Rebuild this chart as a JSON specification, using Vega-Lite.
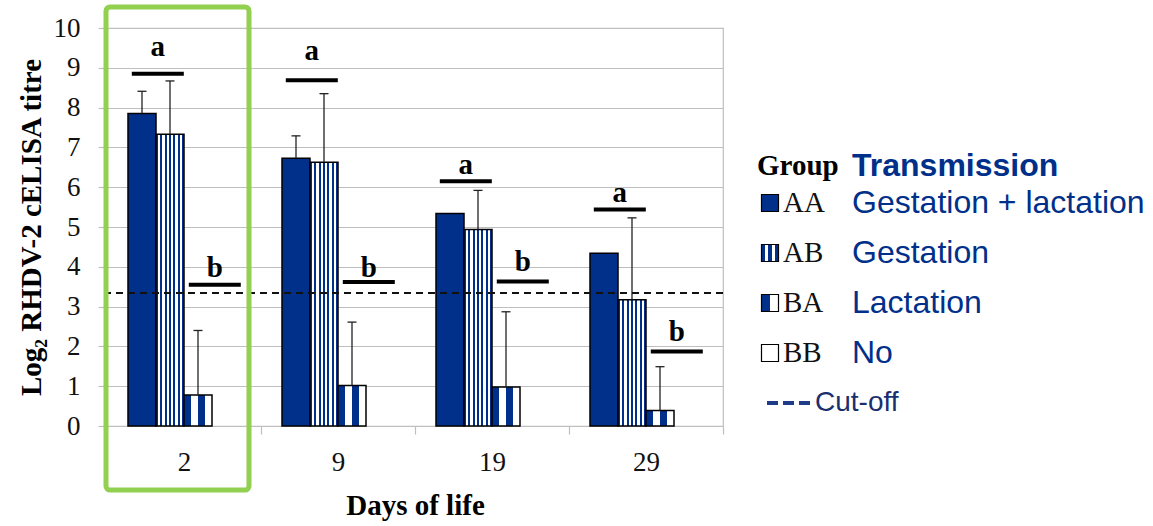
{
  "$schema": "https://vega.github.io/schema/vega-lite/v6.json",
  "autosize": "none",
  "width": 616,
  "height": 398,
  "padding": {"left": 107, "top": 28, "right": 430, "bottom": 100},
  "background": "white",
  "config": {
    "view": {"stroke": "#bfbfbf", "strokeWidth": 1.2},
    "font": "Liberation Serif"
  },
  "datasets": {
    "bars": [
      {"day": "2", "group": "AA", "v": 7.85, "u": 8.41},
      {"day": "2", "group": "AB", "v": 7.33, "u": 8.67},
      {"day": "2", "group": "BA", "v": 0.78, "u": 2.40},
      {"day": "2", "group": "BB", "v": 0, "u": null},
      {"day": "9", "group": "AA", "v": 6.73, "u": 7.29},
      {"day": "9", "group": "AB", "v": 6.63, "u": 8.35},
      {"day": "9", "group": "BA", "v": 1.02, "u": 2.61},
      {"day": "9", "group": "BB", "v": 0, "u": null},
      {"day": "19", "group": "AA", "v": 5.34, "u": null},
      {"day": "19", "group": "AB", "v": 4.94, "u": 5.92},
      {"day": "19", "group": "BA", "v": 0.98, "u": 2.87},
      {"day": "19", "group": "BB", "v": 0, "u": null},
      {"day": "29", "group": "AA", "v": 4.34, "u": null},
      {"day": "29", "group": "AB", "v": 3.17, "u": 5.23},
      {"day": "29", "group": "BA", "v": 0.39, "u": 1.49},
      {"day": "29", "group": "BB", "v": 0, "u": null}
    ],
    "caps": [
      {"day": "2", "group": "AA", "v": 8.41},
      {"day": "2", "group": "AB", "v": 8.67},
      {"day": "2", "group": "BA", "v": 2.40},
      {"day": "9", "group": "AA", "v": 7.29},
      {"day": "9", "group": "AB", "v": 8.35},
      {"day": "9", "group": "BA", "v": 2.61},
      {"day": "19", "group": "AB", "v": 5.92},
      {"day": "19", "group": "BA", "v": 2.87},
      {"day": "29", "group": "AB", "v": 5.23},
      {"day": "29", "group": "BA", "v": 1.49}
    ],
    "siglines": [
      {"day": "2", "letter": "a", "v": 8.85},
      {"day": "2", "letter": "b", "v": 3.55},
      {"day": "9", "letter": "a", "v": 8.69},
      {"day": "9", "letter": "b", "v": 3.62},
      {"day": "19", "letter": "a", "v": 6.15},
      {"day": "19", "letter": "b", "v": 3.63},
      {"day": "29", "letter": "a", "v": 5.44},
      {"day": "29", "letter": "b", "v": 1.87}
    ],
    "sigtext": [
      {"day": "2", "letter": "a", "v": 9.53},
      {"day": "2", "letter": "b", "v": 3.97},
      {"day": "9", "letter": "a", "v": 9.41},
      {"day": "9", "letter": "b", "v": 3.97},
      {"day": "19", "letter": "a", "v": 6.57},
      {"day": "19", "letter": "b", "v": 4.13},
      {"day": "29", "letter": "a", "v": 5.85},
      {"day": "29", "letter": "b", "v": 2.35}
    ],
    "cutoff": [{"v": 3.34}],
    "box": [{"day": "2", "v": 10.53, "u": -1.61}],
    "legend": [
      {"row": "hdr", "code": "Group", "desc": "Transmission"},
      {"row": "AA", "code": "AA", "desc": "Gestation + lactation"},
      {"row": "AB", "code": "AB", "desc": "Gestation"},
      {"row": "BA", "code": "BA", "desc": "Lactation"},
      {"row": "BB", "code": "BB", "desc": "No"},
      {"row": "cut", "code": "", "desc": "Cut-off"}
    ]
  },
  "layer": [
    {
      "encoding": {
        "x": {
          "field": "day", "type": "nominal", "sort": ["2", "9", "19", "29"],
          "scale": {"domain": ["2", "9", "19", "29"], "paddingInner": 0, "paddingOuter": 0},
          "axis": {
            "title": "Days of life", "labelAngle": 0, "tickOffset": 77, "labelOffset": -77,
            "tickSize": 8, "tickColor": "#bfbfbf", "domainColor": "#bfbfbf", "tickWidth": 1.2, "domainWidth": 1.2,
            "labelFont": "Liberation Serif", "labelFontSize": 27, "labelColor": "#111", "labelPadding": 15,
            "titleFont": "Liberation Serif", "titleFontSize": 29, "titleFontWeight": "bold", "titleColor": "#000", "titlePadding": 16,
            "grid": false
          }
        },
        "y": {
          "field": "v", "type": "quantitative", "scale": {"domain": [0, 10]},
          "axis": {
            "title": "Log₂ RHDV-2 cELISA titre", "values": [0, 1, 2, 3, 4, 5, 6, 7, 8, 9, 10], "tickCount": 11,
            "grid": true, "gridColor": "#bfbfbf", "gridWidth": 1.2, "tickColor": "#bfbfbf", "tickWidth": 1.2, "domainColor": "#bfbfbf",
            "tickSize": 9, "labelFont": "Liberation Serif", "labelFontSize": 27, "labelColor": "#111", "labelPadding": 18,
            "titleFont": "Liberation Serif", "titleFontSize": 29, "titleFontWeight": "bold", "titleColor": "#000", "titlePadding": 7
          }
        }
      },
      "layer": [
        {
          "data": {"name": "bars"},
          "transform": [{"filter": "datum.group === 'AA'"}],
          "mark": {"type": "bar", "fill": "#00308A", "stroke": "#000", "strokeWidth": 1.5},
          "encoding": {
            "xOffset": {"field": "group", "type": "nominal", "scale": {"domain": ["AA", "AB", "BA", "BB"], "paddingInner": 0, "paddingOuter": 0.75}}
          }
        },
        {
          "data": {"name": "bars"},
          "transform": [{"filter": "datum.group === 'AB'"}],
          "mark": {"type": "bar", "stroke": "#000", "strokeWidth": 1.5,
            "fill": {"gradient": "linear", "x1": 0, "y1": 0, "x2": 1, "y2": 0, "stops": [
              {"offset": 0, "color": "#00308A"}, {"offset": 0.0769, "color": "#00308A"},
              {"offset": 0.0769, "color": "#ffffff"}, {"offset": 0.1538, "color": "#ffffff"},
              {"offset": 0.1538, "color": "#00308A"}, {"offset": 0.2308, "color": "#00308A"},
              {"offset": 0.2308, "color": "#ffffff"}, {"offset": 0.3077, "color": "#ffffff"},
              {"offset": 0.3077, "color": "#00308A"}, {"offset": 0.3846, "color": "#00308A"},
              {"offset": 0.3846, "color": "#ffffff"}, {"offset": 0.4615, "color": "#ffffff"},
              {"offset": 0.4615, "color": "#00308A"}, {"offset": 0.5385, "color": "#00308A"},
              {"offset": 0.5385, "color": "#ffffff"}, {"offset": 0.6154, "color": "#ffffff"},
              {"offset": 0.6154, "color": "#00308A"}, {"offset": 0.6923, "color": "#00308A"},
              {"offset": 0.6923, "color": "#ffffff"}, {"offset": 0.7692, "color": "#ffffff"},
              {"offset": 0.7692, "color": "#00308A"}, {"offset": 0.8462, "color": "#00308A"},
              {"offset": 0.8462, "color": "#ffffff"}, {"offset": 0.9231, "color": "#ffffff"},
              {"offset": 0.9231, "color": "#00308A"}, {"offset": 1, "color": "#00308A"}
            ]}},
          "encoding": {
            "xOffset": {"field": "group", "type": "nominal", "scale": {"domain": ["AA", "AB", "BA", "BB"], "paddingInner": 0, "paddingOuter": 0.75}}
          }
        },
        {
          "data": {"name": "bars"},
          "transform": [{"filter": "datum.group === 'BA'"}],
          "mark": {"type": "bar", "stroke": "#000", "strokeWidth": 1.5,
            "fill": {"gradient": "linear", "x1": 0, "y1": 0, "x2": 1, "y2": 0, "stops": [
              {"offset": 0, "color": "#00308A"}, {"offset": 0.25, "color": "#00308A"},
              {"offset": 0.25, "color": "#ffffff"}, {"offset": 0.5, "color": "#ffffff"},
              {"offset": 0.5, "color": "#00308A"}, {"offset": 0.75, "color": "#00308A"},
              {"offset": 0.75, "color": "#ffffff"}, {"offset": 1, "color": "#ffffff"}
            ]}},
          "encoding": {
            "xOffset": {"field": "group", "type": "nominal", "scale": {"domain": ["AA", "AB", "BA", "BB"], "paddingInner": 0, "paddingOuter": 0.75}}
          }
        },
        {
          "data": {"name": "bars"},
          "transform": [{"filter": "datum.u != null"}],
          "mark": {"type": "rule", "color": "#222", "strokeWidth": 1.3},
          "encoding": {
            "xOffset": {"field": "group", "type": "nominal", "scale": {"domain": ["AA", "AB", "BA", "BB"], "paddingInner": 0, "paddingOuter": 0.75}},
            "y2": {"field": "u"}
          }
        },
        {
          "data": {"name": "caps"},
          "mark": {"type": "tick", "orient": "horizontal", "color": "#222", "opacity": 1, "size": 9, "thickness": 1.3},
          "encoding": {
            "xOffset": {"field": "group", "type": "nominal", "scale": {"domain": ["AA", "AB", "BA", "BB"], "paddingInner": 0, "paddingOuter": 0.75}}
          }
        },
        {
          "data": {"name": "cutoff"},
          "mark": {"type": "rule", "color": "#111", "strokeWidth": 2, "strokeDash": [7, 5]},
          "encoding": {"x": null}
        },
        {
          "data": {"name": "siglines"},
          "transform": [{"filter": "datum.letter === 'a'"}],
          "mark": {"type": "point", "shape": "stroke", "size": 2704, "filled": false, "stroke": "#000", "strokeWidth": 4, "strokeCap": "butt", "opacity": 1},
          "encoding": {
            "x": {"field": "day", "type": "nominal", "bandPosition": 0.33}
          }
        },
        {
          "data": {"name": "siglines"},
          "transform": [{"filter": "datum.letter === 'b'"}],
          "mark": {"type": "point", "shape": "stroke", "size": 2704, "filled": false, "stroke": "#000", "strokeWidth": 4, "strokeCap": "butt", "opacity": 1},
          "encoding": {
            "x": {"field": "day", "type": "nominal", "bandPosition": 0.7}
          }
        },
        {
          "data": {"name": "sigtext"},
          "transform": [{"filter": "datum.letter === 'a'"}],
          "mark": {"type": "text", "font": "Liberation Serif", "fontWeight": "bold", "fontSize": 29, "color": "#000", "baseline": "middle", "align": "center"},
          "encoding": {
            "x": {"field": "day", "type": "nominal", "bandPosition": 0.33},
            "text": {"field": "letter"}
          }
        },
        {
          "data": {"name": "sigtext"},
          "transform": [{"filter": "datum.letter === 'b'"}],
          "mark": {"type": "text", "font": "Liberation Serif", "fontWeight": "bold", "fontSize": 29, "color": "#000", "baseline": "middle", "align": "center"},
          "encoding": {
            "x": {"field": "day", "type": "nominal", "bandPosition": 0.7},
            "text": {"field": "letter"}
          }
        },
        {
          "data": {"name": "box"},
          "mark": {"type": "bar", "filled": false, "stroke": "#92D050", "strokeWidth": 5, "cornerRadius": 4, "width": 143, "xOffset": -6.5},
          "encoding": {
            "y2": {"field": "u"}
          }
        }
      ]
    },
    {
      "data": {"name": "legend"},
      "encoding": {
        "y": {"field": "row", "type": "nominal", "scale": {"type": "point", "domain": ["hdr", "AA", "AB", "BA", "BB", "cut"], "range": [125, 375], "padding": 0}, "axis": null}
      },
      "layer": [
        {
          "transform": [{"filter": "datum.row === 'hdr'"}],
          "mark": {"type": "text", "align": "left", "baseline": "middle", "dx": -13, "dy": 13, "font": "Liberation Serif", "fontWeight": "bold", "fontSize": 29, "color": "#000"},
          "encoding": {
            "x": {"datum": "sym", "type": "nominal", "scale": {"type": "point", "domain": ["sym", "desc"], "range": [663, 745], "padding": 0}, "axis": null},
            "text": {"field": "code"}
          }
        },
        {
          "transform": [{"filter": "datum.row === 'hdr'"}],
          "mark": {"type": "text", "align": "left", "baseline": "middle", "dy": 13, "font": "Liberation Sans", "fontWeight": "bold", "fontSize": 32, "color": "#00308A"},
          "encoding": {
            "x": {"datum": "desc", "type": "nominal"},
            "text": {"field": "desc"}
          }
        },
        {
          "transform": [{"filter": "datum.row !== 'hdr' && datum.row !== 'cut'"}],
          "mark": {"type": "text", "align": "left", "baseline": "middle", "dx": 13, "font": "Liberation Serif", "fontSize": 29, "color": "#111"},
          "encoding": {
            "x": {"datum": "sym", "type": "nominal"},
            "text": {"field": "code"}
          }
        },
        {
          "transform": [{"filter": "datum.row !== 'hdr' && datum.row !== 'cut'"}],
          "mark": {"type": "text", "align": "left", "baseline": "middle", "font": "Liberation Sans", "fontSize": 32, "color": "#00308A"},
          "encoding": {
            "x": {"datum": "desc", "type": "nominal"},
            "text": {"field": "desc"}
          }
        },
        {
          "transform": [{"filter": "datum.row === 'AA'"}],
          "mark": {"type": "point", "shape": "square", "size": 289, "filled": true, "fill": "#00308A", "stroke": "#000", "strokeWidth": 1.2, "opacity": 1},
          "encoding": {"x": {"datum": "sym", "type": "nominal"}}
        },
        {
          "transform": [{"filter": "datum.row === 'AB'"}],
          "mark": {"type": "point", "shape": "square", "size": 289, "filled": true, "stroke": "#000", "strokeWidth": 1.2, "opacity": 1,
            "fill": {"gradient": "linear", "x1": 0, "y1": 0, "x2": 1, "y2": 0, "stops": [
              {"offset": 0, "color": "#00308A"}, {"offset": 0.2, "color": "#00308A"},
              {"offset": 0.2, "color": "#ffffff"}, {"offset": 0.4, "color": "#ffffff"},
              {"offset": 0.4, "color": "#00308A"}, {"offset": 0.6, "color": "#00308A"},
              {"offset": 0.6, "color": "#ffffff"}, {"offset": 0.8, "color": "#ffffff"},
              {"offset": 0.8, "color": "#00308A"}, {"offset": 1, "color": "#00308A"}
            ]}},
          "encoding": {"x": {"datum": "sym", "type": "nominal"}}
        },
        {
          "transform": [{"filter": "datum.row === 'BA'"}],
          "mark": {"type": "point", "shape": "square", "size": 289, "filled": true, "stroke": "#000", "strokeWidth": 1.2, "opacity": 1,
            "fill": {"gradient": "linear", "x1": 0, "y1": 0, "x2": 1, "y2": 0, "stops": [
              {"offset": 0, "color": "#00308A"}, {"offset": 0.5, "color": "#00308A"},
              {"offset": 0.5, "color": "#ffffff"}, {"offset": 1, "color": "#ffffff"}
            ]}},
          "encoding": {"x": {"datum": "sym", "type": "nominal"}}
        },
        {
          "transform": [{"filter": "datum.row === 'BB'"}],
          "mark": {"type": "point", "shape": "square", "size": 289, "filled": true, "fill": "#ffffff", "stroke": "#000", "strokeWidth": 1.2, "opacity": 1},
          "encoding": {"x": {"datum": "sym", "type": "nominal"}}
        },
        {
          "transform": [{"filter": "datum.row === 'cut'"}],
          "mark": {"type": "rule", "color": "#1F3C88", "strokeWidth": 4, "strokeDash": [11, 5], "xOffset": -3, "x2Offset": 40},
          "encoding": {
            "x": {"datum": "sym", "type": "nominal"},
            "x2": {"datum": "sym"}
          }
        },
        {
          "transform": [{"filter": "datum.row === 'cut'"}],
          "mark": {"type": "text", "align": "left", "baseline": "middle", "dx": 45, "font": "Liberation Sans", "fontSize": 28, "color": "#1a2f6e"},
          "encoding": {
            "x": {"datum": "sym", "type": "nominal"},
            "text": {"field": "desc"}
          }
        }
      ]
    }
  ],
  "resolve": {"scale": {"x": "independent", "y": "independent"}}
}
